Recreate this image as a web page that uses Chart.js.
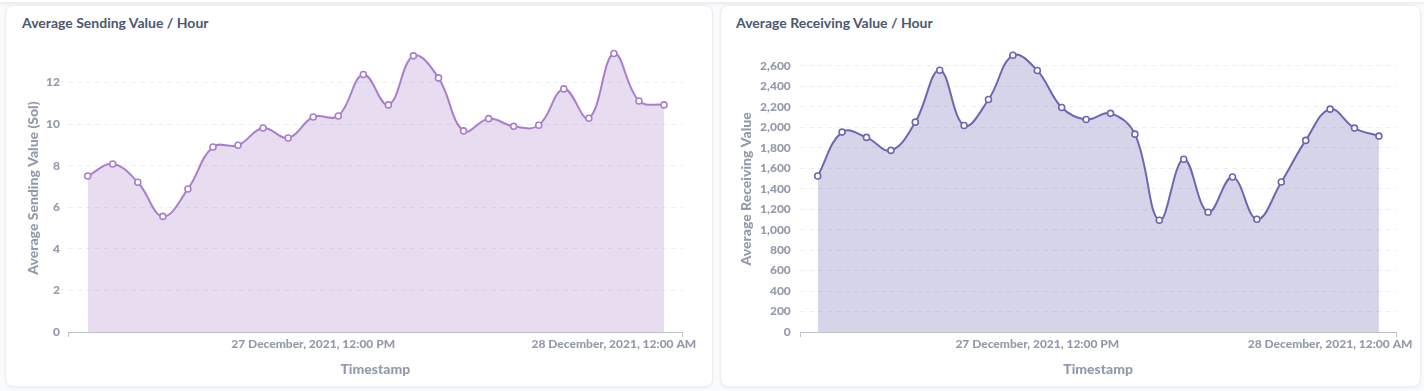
<!DOCTYPE html>
<html>
<head>
<meta charset="utf-8">
<script src="https://cdn.jsdelivr.net/npm/chart.js@4.4.1/dist/chart.umd.min.js"></script>
<style>
  html, body { margin: 0; padding: 0; }
  body { width: 1424px; height: 391px; background: #f9fbfc; position: relative; overflow: hidden; font-family: Lato, sans-serif; }
  .topcard { position: absolute; left: 0; top: -20px; width: 1424px; height: 22px; background: #fff; box-shadow: 0 1px 3px rgba(0,0,0,0.08); border-bottom: 1px solid #eceef1; }
  .card { position: absolute; top: 5px; height: 382px; background: #fff; border: 1px solid #eceef2; border-radius: 8px; box-shadow: 0 1px 3px rgba(0,0,0,0.06); box-sizing: border-box; }
  .title { position: absolute; font-family: Lato, sans-serif; font-weight: 700; font-size: 14px; line-height: 17px; color: #4c5773; white-space: nowrap; }
  canvas { position: absolute; }
</style>
</head>
<body>
<div class="topcard"></div>
<div class="card" style="left:5px; width:708px;"></div>
<div class="card" style="left:720px; width:701px;"></div>
<div class="title" id="t1" style="left:22px; top:14px;"></div>
<div class="title" id="t2" style="left:736px; top:14px;"></div>
<canvas id="c1" width="706" height="357" style="left:6px; top:29px;"></canvas>
<canvas id="c2" width="700" height="357" style="left:720px; top:29px;"></canvas>
<script>
// ---- data ----
const timestamps = [
  "2021-12-27T03:00:00Z","2021-12-27T04:00:00Z","2021-12-27T05:00:00Z","2021-12-27T06:00:00Z",
  "2021-12-27T07:00:00Z","2021-12-27T08:00:00Z","2021-12-27T09:00:00Z","2021-12-27T10:00:00Z",
  "2021-12-27T11:00:00Z","2021-12-27T12:00:00Z","2021-12-27T13:00:00Z","2021-12-27T14:00:00Z",
  "2021-12-27T15:00:00Z","2021-12-27T16:00:00Z","2021-12-27T17:00:00Z","2021-12-27T18:00:00Z",
  "2021-12-27T19:00:00Z","2021-12-27T20:00:00Z","2021-12-27T21:00:00Z","2021-12-27T22:00:00Z",
  "2021-12-27T23:00:00Z","2021-12-28T00:00:00Z","2021-12-28T01:00:00Z","2021-12-28T02:00:00Z"
];
const sendingValues = [7.50, 8.08, 7.20, 5.56, 6.88, 8.90, 8.98, 9.81, 9.33, 10.34, 10.39, 12.38,
  10.92, 13.28, 12.22, 9.67, 10.26, 9.89, 9.94, 11.69, 10.28, 13.39, 11.11, 10.92];
const receivingValues = [1524, 1953, 1901, 1774, 2050, 2557, 2018, 2271, 2703, 2554, 2193, 2076,
  2136, 1933, 1092, 1687, 1170, 1514, 1102, 1465, 1872, 2177, 1992, 1914];
const sendingTicks = [0, 2, 4, 6, 8, 10, 12];
const receivingTicks = [0, 200, 400, 600, 800, 1000, 1200, 1400, 1600, 1800, 2000, 2200, 2400, 2600];
const xTickTimestamps = ["2021-12-27T12:00:00Z", "2021-12-28T00:00:00Z"];
const xTickLabels = ["27 December, 2021, 12:00 PM", "28 December, 2021, 12:00 AM"];
const chartTitles = ["Average Sending Value / Hour", "Average Receiving Value / Hour"];
const yAxisTitles = ["Average Sending Value (Sol)", "Average Receiving Value"];
const xAxisTitle = "Timestamp";

document.getElementById('t1').textContent = chartTitles[0];
document.getElementById('t2').textContent = chartTitles[1];

const t0 = Date.parse(timestamps[0]);
const toHours = ts => (Date.parse(ts) - t0) / 3600000;
const xVals = timestamps.map(toHours);
const tickHours = xTickTimestamps.map(toHours);

Chart.defaults.font.family = 'Lato, sans-serif';

function makeChart(id, values, yTicks, cfg) {
  const pts = values.map((v, i) => ({x: xVals[i], y: v}));
  return new Chart(document.getElementById(id), {
    type: 'line',
    data: { datasets: [{
      data: pts,
      borderColor: cfg.line,
      backgroundColor: cfg.fill,
      fill: 'origin',
      borderWidth: 2,
      tension: 0.4,
      pointRadius: 3,
      pointBorderWidth: 1.6,
      pointBackgroundColor: '#ffffff',
      pointBorderColor: cfg.line
    }]},
    options: {
      responsive: false,
      devicePixelRatio: 1,
      animation: false,
      events: [],
      layout: { padding: { top: 0, right: cfg.padRight, left: 0, bottom: 0 } },
      plugins: { legend: { display: false }, tooltip: { enabled: false } },
      scales: {
        x: {
          type: 'linear',
          min: cfg.xmin, max: cfg.xmax,
          afterBuildTicks: s => { s.ticks = [cfg.xmin, ...tickHours, cfg.xmax].map(v => ({value: v})); },
          afterFit: s => { s.height = 54; },
          ticks: {
            autoSkip: false, maxRotation: 0, padding: 0,
            color: '#949aab', font: { size: 12, weight: '900' },
            callback: (v) => { const k = tickHours.indexOf(v); return k >= 0 ? xTickLabels[k] : ''; }
          },
          grid: {
            display: true, drawOnChartArea: false, drawTicks: true, tickLength: 5,
            color: ctx => (ctx.tick && (ctx.tick.value === cfg.xmin || ctx.tick.value === cfg.xmax)) ? '#bdc1c9' : 'rgba(0,0,0,0)',
            tickColor: ctx => (ctx.tick && (ctx.tick.value === cfg.xmin || ctx.tick.value === cfg.xmax)) ? '#bdc1c9' : 'rgba(0,0,0,0)'
          },
          border: { display: true, color: '#bdc1c9', width: 1 },
          title: { display: true, text: xAxisTitle, color: '#949aab', font: { size: 14, weight: '900' }, padding: { top: 0, bottom: 8.6 } }
        },
        y: {
          min: 0, max: cfg.ymax, bounds: 'data',
          afterBuildTicks: s => { s.ticks = yTicks.map(v => ({value: v})); },
          afterFit: s => { s.width = cfg.yWidth; },
          ticks: {
            padding: cfg.yPad,
            color: '#949aab', font: { size: 12, weight: '900' },
            callback: v => v.toLocaleString('en-US')
          },
          grid: { drawTicks: false, color: '#eceef1', lineWidth: 1 },
          border: { display: false, dash: [5, 4] },
          title: { display: true, text: cfg.yTitle, color: '#949aab', font: { size: 14, weight: '900' }, padding: { top: cfg.yTitlePad, bottom: 0 } }
        }
      }
    }
  });
}

makeChart('c1', sendingValues, sendingTicks, {
  line: '#a97fcc', fill: 'rgba(169,127,204,0.27)',
  xmin: -0.786, xmax: 23.746, ymax: 13.84,
  padRight: 29.3, yWidth: 62, yPad: 8, yTitle: yAxisTitles[0], yTitlePad: 18.6
});
makeChart('c2', receivingValues, receivingTicks, {
  line: '#6f66b1', fill: 'rgba(113,106,177,0.29)',
  xmin: -0.713, xmax: 23.70, ymax: 2797,
  padRight: 24, yWidth: 80.3, yPad: 9.5, yTitle: yAxisTitles[1], yTitlePad: 17.6
});
</script>
</body>
</html>
